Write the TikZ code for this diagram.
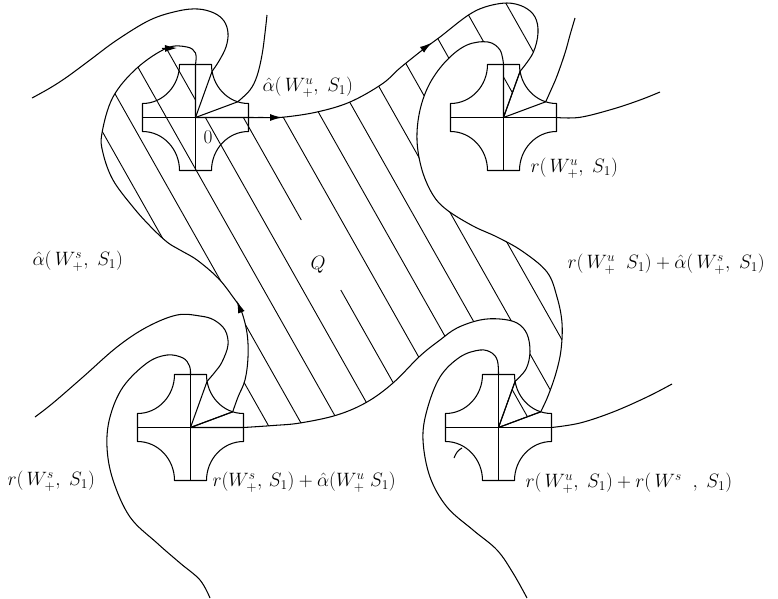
\documentclass[tikz,border=0pt]{standalone}
\usepackage{graphicx}
\usetikzlibrary{arrows.meta}
\newcommand\lbtext[1]{\scalebox{1.12}{$#1$}}
\begin{document}
\begin{tikzpicture}[x=1pt,y=-1pt,line width=1.05pt,line join=round,
  lbl/.style={inner sep=0pt,font=\fontsize{17.28}{20}\selectfont},
  arr/.style={-{Latex[length=12pt,width=7pt]}},
  hatch/.style={line width=0.9pt},
  cross/.pic={
    \draw (-16,-53) -- (16,-53) .. controls (16,-31.5) and (32.6,-14) .. (53,-14)
      -- (53,14) .. controls (32.6,14) and (16,31.5) .. (16,53)
      -- (-16,53) .. controls (-16,31.5) and (-32.6,14) .. (-53,14)
      -- (-53,-14) .. controls (-32.6,-14) and (-16,-31.5) .. (-16,-53) -- cycle;
    \coordinate (-c) at (0,0);
    \coordinate (-r1) at (16.6,-46.2);
    \coordinate (-r2) at (42.2,-15.7);
    \coordinate (-t) at (0,-53);
    \coordinate (-e) at (53,0);
    \draw (-53,0) -- (53,0);
    \draw (0,-53) -- (0,53);
    \draw (0,0) -- (16.6,-46.2);
    \draw (0,0) -- (42.2,-15.7);
  }]
\useasboundingbox (0,0) rectangle (778,598);

% the four crosses
\pic (tl) at (195.5,117.5) {cross};
\pic (tr) at (503.5,117.5) {cross};
\pic (br) at (498.5,427.5) {cross};
\pic (bl) at (190.5,427.5) {cross};

\newcommand\qpath{(tl-c) -- (tl-e) -- plot[smooth,tension=0.6] coordinates {(248.5,117.5) (262,117.5) (283,117.2) (317,112) (350,102) (382,84) (400,68) (425,48) (440,37) (467,16) (485,7) (507,3) (524,7) (535,17) (538,33) (533,53) (tr-r1)}
 -- (tr-c) -- (tr-t) -- plot[smooth,tension=0.6] coordinates {(503.5,64.5) (500,50) (488,42) (467,45) (447,60) (430,83) (420,110) (417,140) (422,170) (433,195) (447,210) (473,226) (497,237) (522,251) (547,272) (557,297) (562,323) (561,350) (556,373) (548,396) (br-r2)}
 -- (br-c) -- plot[smooth,tension=0.6] coordinates {(br-r1) (526,369) (530,352) (527,334) (517,323) (500,319) (480,320) (457,328) (440,340) (420,356) (393,383) (367,402) (337,415) (300,423) (273,425.5) (243.5,427.5)}
 -- (bl-c) -- plot[smooth,tension=0.6] coordinates {(bl-r2) (238,397) (245,380) (248,357) (247,333) (241,310) (233,297) (218,278) (197,260) (180,250) (167,242) (150,226) (133,207) (113,180) (103,153) (102,133) (113,97) (137,68) (167,48) (187,47) (195.5,53) (tl-t)} -- cycle}

% hatching of Q
\begin{scope}
  \clip \qpath;
  \foreach \c in {28,62,100,139,217,255,292,330,370,416,460,504}
    \draw[hatch] (\c,0) -- ({\c+339},600);
  \draw[hatch] (177,0) -- (301.3,220);
  \draw[hatch] (340.8,290) -- (516,600);
\end{scope}
\draw \qpath;

% other manifold branches
\draw plot[smooth,tension=0.6] coordinates {(tl-r1) (219,61) (226,47) (228,33) (224,21) (214,13) (198,9) (178,11) (150,20) (117,40) (90,60) (67,77) (50,88) (32,98)};
\draw plot[smooth,tension=0.6] coordinates {(tl-r2) (250,90) (257,76) (262,55) (265,33) (267,15)};
\draw plot[smooth,tension=0.6] coordinates {(tr-r2) (551,90) (557,76) (565,53) (570,35) (575,18)};
\draw plot[smooth,tension=0.6] coordinates {(tr-e) (580,117.3) (613,109) (640,100) (660,92)};
\draw plot[smooth,tension=0.6] coordinates {(bl-r1) (215,372) (222,362) (228,345) (225,330) (214,320) (200,316) (177,315) (147,327) (117,347) (83,377) (53,403) (35,417)};
\draw plot[smooth,tension=0.6] coordinates {(bl-t) (189.5,366) (183,358) (167,355) (147,363) (123,387) (110,417) (107,447) (113,480) (130,517) (157,543) (180,563) (200,580) (210,598)};
\draw plot[smooth,tension=0.6] coordinates {(br-t) (497.5,361) (492,353) (480,350) (460,357) (440,377) (427,410) (423,440) (430,477) (447,507) (473,530) (497,550) (513,573) (527,598)};
\draw plot[smooth,tension=0.6] coordinates {(br-e) (580,423) (613,412) (647,397) (672,384)};
\draw (454,458) .. controls (456,453) and (458,450) .. (462,448);

% arrowheads
\draw[arr] (266,117.5) -- (282,117.5);
\draw[arr] (162,48.5) -- (177,48);
\draw[arr] (422,49.8) -- (431.7,42.7);
\draw[arr] (241.3,312.2) -- (237,301);

% labels
\node[lbl] (zero) at (208,137) {\lbtext{0}};
\node[lbl] (qlab) at (318,265) {\lbtext{Q}};
\node[lbl,anchor=west] (l1) at (262,87) {\lbtext{\hat\alpha(\,W^u_+,\;S_1)}};
\node[lbl,anchor=west] (l2) at (530,168) {\lbtext{r(\,W^u_+,\;S_1)}};
\node[lbl,anchor=west] (l3) at (32,261) {\lbtext{\hat\alpha(\,W^s_+,\;S_1)}};
\node[lbl,anchor=west] (l4) at (567,264) {\lbtext{r(\,W^u_+\;\;S_1)+\hat\alpha(\,W^s_+,\;S_1)}};
\node[lbl,anchor=west] (l5) at (7,481) {\lbtext{r(\,W^s_+,\;S_1)}};
\node[lbl,anchor=west] (l6) at (212,482) {\lbtext{r(W^s_+,\,S_1)+\hat\alpha(W^u_+\;S_1)}};
\node[lbl,anchor=west] (l7) at (525,483) {\lbtext{r(\,W^u_+,\;S_1)+r(\,W^s\;\;,\;S_1)}};
\end{tikzpicture}
\end{document}
